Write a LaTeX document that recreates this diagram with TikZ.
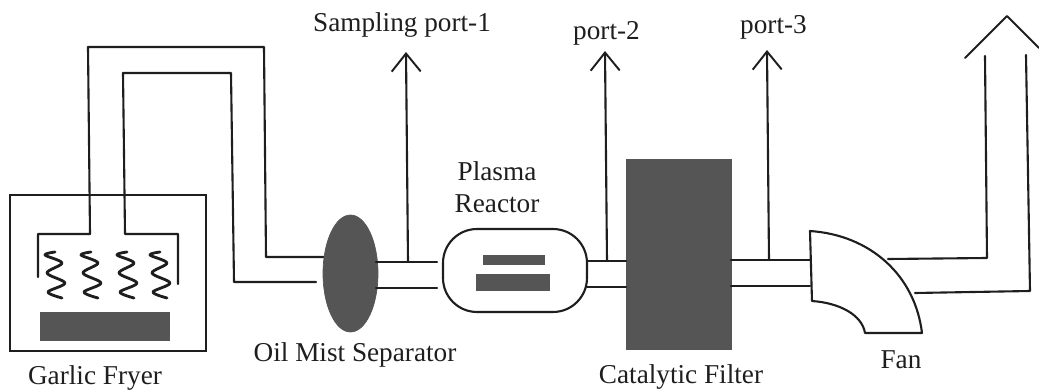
\documentclass[tikz,border=0pt]{standalone}
\usepackage{fontspec}
\setmainfont{Liberation Serif}
\usetikzlibrary{shapes.geometric,arrows.meta}
\definecolor{unitgray}{HTML}{555555}
\definecolor{inkgray}{HTML}{1E1E1E}
\tikzset{
	pipe/.style={draw=inkgray, line width=1.2pt, line cap=round, line join=round},
	portline/.style={pipe, -{Straight Barb[length=0.36cm, width=0.58cm, line width=1.1pt]}},
	solidunit/.style={fill=unitgray, draw=unitgray, inner sep=0pt, outer sep=0pt},
	hollowunit/.style={draw=inkgray, fill=white, line width=1.2pt, inner sep=0pt, outer sep=0pt},
	tag/.style={text=inkgray, inner sep=0pt, font=\fontsize{15.5}{18}\selectfont, align=center}
}

\begin{document}
\begin{tikzpicture}[x=0.02cm, y=-0.02cm]
	\useasboundingbox (0,0) rectangle (1039,392);

	\coordinate (hoodl) at (38,277);
	\coordinate (hoodr) at (178,284);
	\coordinate (sepin) at (324,257);
	\coordinate (sepinb) at (316,282);
	\coordinate (sepout) at (376,262);
	\coordinate (sepoutb) at (376,288);
	\coordinate (rctin) at (437,262);
	\coordinate (rctinb) at (437,288);
	\coordinate (fanin) at (810,260);
	\coordinate (faninb) at (810,286);
	\coordinate (one) at (408,262);
	\coordinate (onetip) at (406,52);
	\coordinate (two) at (607,261);
	\coordinate (twotip) at (605,51);
	\coordinate (three) at (769,260);
	\coordinate (threetip) at (767,50);

	\draw (108,273) node[hollowunit, minimum width=3.92cm, minimum height=3.12cm] (fryer) {};
	\draw (104.5,326) node[solidunit, minimum width=2.58cm, minimum height=0.56cm] (oil) {};

	\draw [pipe] (hoodl) -- (38,234) -- (90,234) -- (88,47) -- (264,47) -- (266,257) -- (sepin);
	\draw [pipe] (hoodr) -- (178,234) -- (125,234) -- (123,73) -- (231,73) -- (234,282) -- (sepinb);

	\foreach \dx in {0,36,72,105}
		\draw [pipe, line width=1.6pt, xshift=\dx*0.02cm] plot [smooth, tension=0.55] coordinates
			{(55,252) (45,255) (62,263) (47,273) (65,283) (48,292) (62,298)};

	\draw (350.5,273.5) node[solidunit, ellipse, minimum width=1.1cm, minimum height=2.34cm] (sep) {};
	\draw [pipe] (sepout) -- (rctin);
	\draw [pipe] (sepoutb) -- (rctinb);
	\draw [portline] (one) -- (onetip);

	\draw (515,270.5) node[hollowunit, rounded corners=0.68cm, minimum width=2.88cm, minimum height=1.66cm] (rct) {};
	\draw (513.5,259.5) node[solidunit, minimum width=1.22cm, minimum height=0.18cm] (plateup) {};
	\draw (512.5,282) node[solidunit, minimum width=1.46cm, minimum height=0.32cm] (platedn) {};

	\draw (678.5,254) node[solidunit, minimum width=2.1cm, minimum height=3.8cm] (filter) {};
	\draw [pipe] (rct.east |- two) -- (filter.west |- two);
	\draw [pipe] (rct.east |- 0,287) -- (filter.west |- 0,287);
	\draw [portline] (two) -- (twotip);

	\draw [pipe] (filter.east |- fanin) -- (fanin);
	\draw [pipe] (filter.east |- faninb) -- (faninb);
	\draw [portline] (three) -- (threetip);

	\draw [pipe] (888,259) -- (987,258) -- (985,56);
	\draw [pipe] (915,293) -- (1030,291) -- (1026,55);
	\draw [pipe] (965,58) -- (1007,16) -- (1039,48);
	\draw [pipe, fill=white] (810,231) .. controls (870,235) and (915,275) .. (922,333)
		-- (865,333) .. controls (862,315) and (840,303) .. (812,301) -- cycle;

	\draw (95,378) node[tag] (fryerlbl) {Garlic Fryer};
	\draw (355,355) node[tag] (seplbl) {Oil Mist Separator};
	\draw (402,25) node[tag] (onelbl) {Sampling port-1};
	\draw (606.5,33) node[tag] (twolbl) {port-2};
	\draw (773.5,27) node[tag] (threelbl) {port-3};
	\draw (497,187) node[tag] (rctlbl) {Plasma\\Reactor};
	\draw (681,377) node[tag] (filterlbl) {Catalytic Filter};
	\draw (901,360) node[tag] (fanlbl) {Fan};
\end{tikzpicture}
\end{document}
